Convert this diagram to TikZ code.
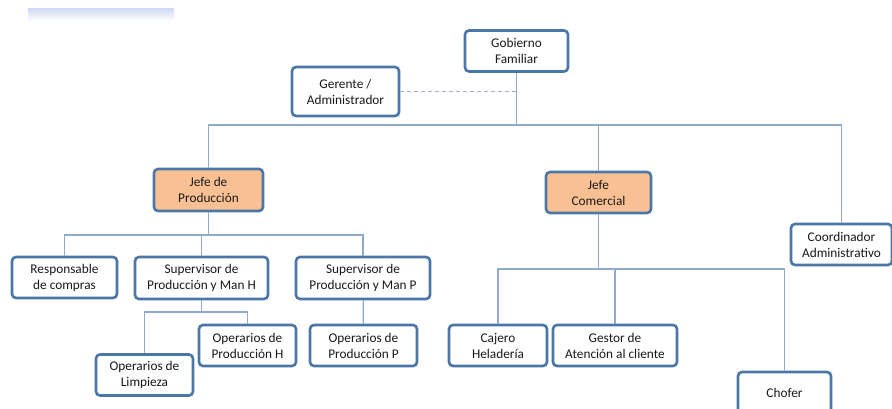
\documentclass[tikz,border=0pt]{standalone}
\usepackage{fontspec}
\setmainfont{Carlito}
\definecolor{boxline}{HTML}{4A76A8}
\definecolor{peach}{HTML}{F9C193}
\definecolor{linkline}{HTML}{8FAACB}
\definecolor{dashline}{HTML}{A0B2CA}
\definecolor{barblue}{HTML}{D3DBF4}
\tikzset{
  unit/.style={draw=boxline, line width=2.6pt, rounded corners=4pt, fill=white,
    align=center, minimum height=41pt, inner sep=2pt,
    font=\fontsize{13.3}{16}\selectfont, text=black!90},
  boss/.style={unit, fill=peach},
  link/.style={draw=linkline, line width=1.3pt},
  dotlink/.style={draw=dashline, line width=1pt, dash pattern=on 4pt off 3pt}
}
\begin{document}
\begin{tikzpicture}[x=1pt, y=-1pt]
      \useasboundingbox (0,0) rectangle (892,409);
      % faded banner at top left
      \shade[top color=barblue, bottom color=white] (28,9) rectangle (174,21);
      % top level
      \node[unit, minimum width=103pt] (gob) at (516.5,51) {Gobierno\\Familiar};
      \node[unit, minimum width=107pt, minimum height=49pt] (ger) at (345.5,91.5) {Gerente /\\Administrador};
      \node[boss, minimum width=109pt, minimum height=42pt] (jp) at (208.5,190) {Jefe de\\Producción};
      \node[boss, minimum width=105pt] (jc) at (598.5,192.5) {Jefe\\Comercial};
      \node[unit, minimum width=101pt] (coord) at (841.5,244.5) {Coordinador\\Administrativo};
      % produccion
      \node[unit, minimum width=105pt] (resp) at (64.5,277.5) {Responsable\\de compras};
      \node[unit, minimum width=133pt, minimum height=42pt] (suph) at (201.5,278) {Supervisor de\\Producción y Man H};
      \node[unit, minimum width=134pt, minimum height=42pt] (supp) at (363,278) {Supervisor de\\Producción y Man P};
      \node[unit, minimum width=97pt] (limp) at (144.5,375) {Operarios de\\Limpieza};
      \node[unit, minimum width=97pt] (oph) at (247.5,345.5) {Operarios de\\Producción H};
      \node[unit, minimum width=107pt] (opp) at (363.5,345.5) {Operarios de\\Producción P};
      % comercial
      \node[unit, minimum width=98pt] (caj) at (498,345.5) {Cajero\\Heladería};
      \node[unit, minimum width=124pt] (ges) at (615,345.5) {Gestor de\\Atención al cliente};
      \node[unit, minimum width=93pt] (chof) at (784.5,392.5) {Chofer};
      % connectors
      \coordinate (top) at (516.5,125);
      \coordinate (busP) at (208.5,235);
      \coordinate (busH) at (201.5,312);
      \coordinate (busC) at (598.5,269);
      \draw[dotlink] (ger.east) -- (ger.east -| gob.south);
      \draw[link] (gob) -- (top);
      \draw[link] (jp.north) |- (top) -| (coord.north);
      \draw[link] (top -| jc) -- (jc.north);
      \draw[link] (jp) -- (busP);
      \draw[link] (resp.north) |- (busP) -| (supp.north);
      \draw[link] (busP -| suph) -- (suph.north);
      \draw[link] (suph) -- (busH);
      \draw[link] (limp.north) |- (busH) -| (oph.north);
      \draw[link] (supp) -- (opp);
      \draw[link] (jc) -- (busC);
      \draw[link] (caj.north) |- (busC) -| (chof.north);
      \draw[link] (busC -| ges) -- (ges.north);
    \end{tikzpicture}
\end{document}
